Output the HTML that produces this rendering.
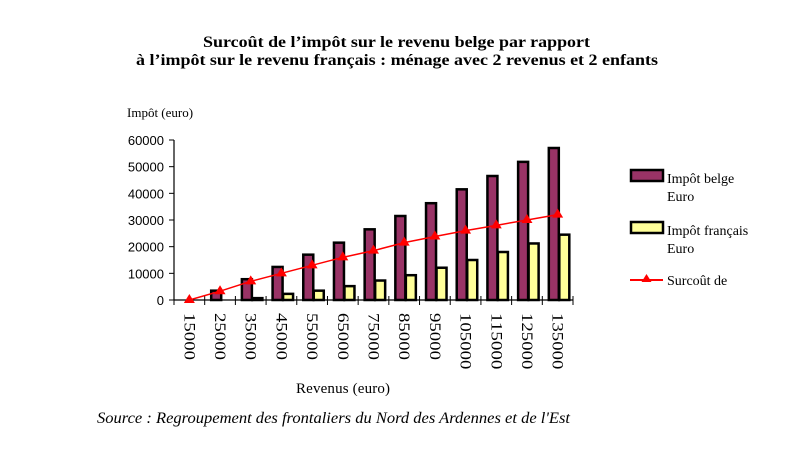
<!DOCTYPE html>
<html><head><meta charset="utf-8"><style>
body{margin:0;background:#fff;width:795px;height:451px;overflow:hidden}
svg text{font-family:"Liberation Serif",serif;fill:#000}
</style></head><body>
<svg id="c" width="795" height="451">
<text x="203" y="47" textLength="387" lengthAdjust="spacingAndGlyphs" font-weight="bold" font-size="16">Surcoût de l’impôt sur le revenu belge par rapport</text>
<text x="136" y="65" textLength="522" lengthAdjust="spacingAndGlyphs" font-weight="bold" font-size="16">à l’impôt sur le revenu français : ménage avec 2 revenus et 2 enfants</text>
<text x="127" y="117" font-size="13">Impôt (euro)</text>
<text x="296" y="393" font-size="15" textLength="94">Revenus (euro)</text>
<text x="97" y="423" font-size="16" textLength="473" lengthAdjust="spacingAndGlyphs" font-style="italic">Source : Regroupement des frontaliers du Nord des Ardennes et de l'Est</text>
<g id="plot"></g>
<g>
<rect x="631" y="170" width="32" height="11" fill="#993366" stroke="#000" stroke-width="2.5"/>
<text x="667" y="183" font-size="14">Impôt belge</text>
<text x="667" y="201" font-size="14">Euro</text>
<rect x="631" y="222" width="32" height="11" fill="#ffff99" stroke="#000" stroke-width="2.5"/>
<text x="667" y="235" font-size="14">Impôt français</text>
<text x="667" y="253" font-size="14">Euro</text>
<line x1="630" y1="280" x2="663" y2="280" stroke="#ff0000" stroke-width="2"/>
<polygon points="646.5,274 641.5,282 651.5,282" fill="#ff0000"/>
<text x="667" y="285" font-size="14">Surcoût de</text>
</g>
</svg>
<script>
const categories=["15000","25000","35000","45000","55000","65000","75000","85000","95000","105000","115000","125000","135000"];
const belge=[0,3500,7800,12400,17000,21500,26500,31500,36300,41500,46500,51800,57000];
const francais=[0,0,700,2300,3500,5200,7300,9300,12100,15000,18000,21200,24500];
const surcout=[0,3300,7000,10000,13000,16000,18500,21500,23800,26000,28000,30000,32000];
const yTicks=[0,10000,20000,30000,40000,50000,60000];
const NS="http://www.w3.org/2000/svg";
const x0=174,x1=573,y0=300,y1=140,yMax=60000;
const bw=(x1-x0)/categories.length;
const X=i=>x0+i*bw, Y=v=>y0-(v/yMax)*(y0-y1);
const g=document.getElementById('plot');
function mk(t,a){const e=document.createElementNS(NS,t);for(const k in a)e.setAttribute(k,a[k]);g.appendChild(e);return e;}
let e=mk('line',{x1:x0,y1:y1,x2:x0,y2:y0,stroke:'#000','stroke-width':1.2});


yTicks.forEach(v=>{
 let t=mk('line',{x1:x0-5,y1:Y(v),x2:x0,y2:Y(v),stroke:'#000'});
 
 
 let l=mk('text',{x:x0-10,y:Y(v)+5,'text-anchor':'end','font-size':13,style:'font-family:"Liberation Sans",sans-serif'});
 l.textContent=v;
 
 
});
categories.forEach((c,i)=>{
 let hb=y0-Y(belge[i]);
 if(hb>0){let r=mk('rect',{x:X(i)+6.5,y:Y(belge[i]),width:10,height:hb,fill:'#993366',stroke:'#000','stroke-width':2.5});
 
 }
 let hf=y0-Y(francais[i]);
 if(hf>0){let r=mk('rect',{x:X(i)+17,y:Y(francais[i]),width:10,height:hf,fill:'#ffff99',stroke:'#000','stroke-width':2.5});
 
 }
});
e=mk('line',{x1:x0,y1:y0,x2:x1,y2:y0,stroke:'#000','stroke-width':1.2});


for(let i=0;i<=categories.length;i++){
 let t=mk('line',{x1:X(i),y1:y0-4,x2:X(i),y2:y0+5,stroke:'#000'});
 
 
}
categories.forEach((c,i)=>{
 const cx=X(i)+bw/2;
 let l=mk('text',{x:0,y:0,'font-size':16,textLength:c.length*9.4,lengthAdjust:'spacingAndGlyphs',transform:`translate(${cx-5},${y0+13}) rotate(90)`});
 l.textContent=c;
 
 
});
let pts=surcout.map((v,i)=>(X(i)+bw/2)+','+Y(v)).join(' ');
e=mk('polyline',{points:pts,fill:'none',stroke:'#ff0000','stroke-width':1.5});


surcout.forEach((v,i)=>{
 const cx=X(i)+bw/2,cy=Y(v);
 let p=mk('polygon',{points:`${cx},${cy-6} ${cx-5.5},${cy+3} ${cx+5.5},${cy+3}`,fill:'#ff0000'});
 
 
});
</script>
</body></html>
